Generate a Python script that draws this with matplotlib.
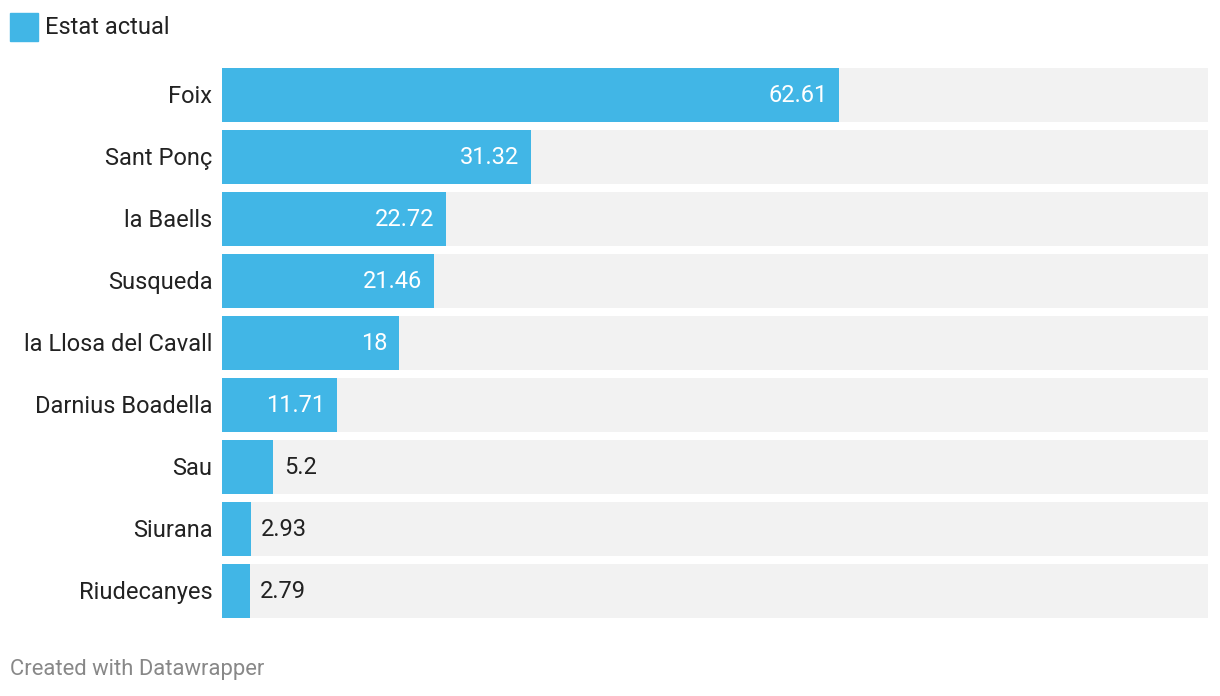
import matplotlib.pyplot as plt
from matplotlib.patches import Rectangle

plt.rcParams['font.family'] = ['Roboto', 'DejaVu Sans']

categories = ['Foix', 'Sant Ponç', 'la Baells', 'Susqueda', 'la Llosa del Cavall',
              'Darnius Boadella', 'Sau', 'Siurana', 'Riudecanyes']
values = [62.61, 31.32, 22.72, 21.46, 18, 11.71, 5.2, 2.93, 2.79]
labels = ['62.61', '31.32', '22.72', '21.46', '18', '11.71', '5.2', '2.93', '2.79']
max_value = 100
series_name = 'Estat actual'

bar_color = '#41b6e6'
bg_color = '#f2f2f2'
text_color = '#222222'

W, H = 1220, 696
fig = plt.figure(figsize=(W / 100, H / 100), dpi=100)
ax = fig.add_axes([222 / W, 1 - 622 / H, (1208 - 222) / W, (622 - 64) / H])

y = list(range(len(categories)))
bh = 54 / 62
ax.barh(y, [max_value] * len(y), height=bh, color=bg_color, zorder=1)
ax.barh(y, values, height=bh, color=bar_color, zorder=2)

ax.set_xlim(0, max_value)
ax.set_ylim(len(y) - 0.5, -0.5)
ax.axis('off')

fs = 17
for i, (v, lab, cat) in enumerate(zip(values, labels, categories)):
    ax.annotate(cat, (0, i), xytext=(-7, -1), textcoords='offset points',
                ha='right', va='center', fontsize=fs, color=text_color)
    if v > 10:
        ax.annotate(lab, (v, i), xytext=(-8.5, 0), textcoords='offset points',
                    ha='right', va='center', fontsize=fs, color='white')
    else:
        ax.annotate(lab, (v, i), xytext=(7.5, 0), textcoords='offset points',
                    ha='left', va='center', fontsize=fs, color=text_color)

# legend
fig.patches.append(Rectangle((10 / W, 1 - 41 / H), 28 / W, 28 / H,
                             transform=fig.transFigure, color=bar_color))
fig.text(45 / W, 1 - 27 / H, series_name, ha='left', va='center',
         fontsize=fs, color=text_color)

fig.text(10 / W, 1 - 670 / H, 'Created with Datawrapper', ha='left', va='center',
         fontsize=15.8, color='#888888')

plt.savefig('out.png', dpi=100)
plt.close()
